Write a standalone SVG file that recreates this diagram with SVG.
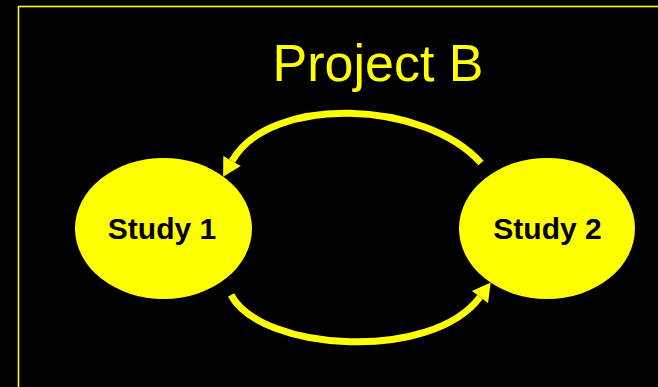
<svg xmlns="http://www.w3.org/2000/svg" width="658" height="387" viewBox="0 0 658 387">
  <style>
    .node { fill: #FFFF00; }
    .nlabel { font-family: "Liberation Sans", Arial, sans-serif; font-weight: bold; font-size: 30px; fill: #000000; text-anchor: middle; }
    .title { font-family: "Liberation Sans", Arial, sans-serif; font-size: 52px; fill: #FFFF00; text-anchor: middle; }
    .conn { fill: none; stroke: #FFFF00; stroke-width: 7; }
  </style>
  <defs>
    <marker id="arrow" markerUnits="userSpaceOnUse" markerWidth="20" markerHeight="22" viewBox="0 -11 19 22" refX="0" refY="0" orient="auto">
      <path d="M0,-10 L18,0 L0,10 Z" fill="#FFFF00"/>
    </marker>
  </defs>
  <rect x="0" y="0" width="658" height="387" fill="#000000"/>
  <rect x="18.5" y="6.5" width="700" height="500" fill="none" stroke="#FFFF00" stroke-width="1.6"/>
  <text class="title" x="378" y="81">Project B</text>
  <g id="study1">
    <ellipse class="node" cx="163.5" cy="228.5" rx="88.5" ry="70.5"/>
    <text class="nlabel" x="162" y="239">Study 1</text>
  </g>
  <g id="study2">
    <ellipse class="node" cx="547" cy="228.5" rx="88" ry="70.5"/>
    <text class="nlabel" x="547.5" y="239">Study 2</text>
  </g>
  <g id="connectors">
    <path class="conn" d="M481,163 C425,100 270,94 232,161" marker-end="url(#arrow)"/>
    <path class="conn" d="M231,295 C262,352 432,362 480,297" marker-end="url(#arrow)"/>
  </g>
</svg>
